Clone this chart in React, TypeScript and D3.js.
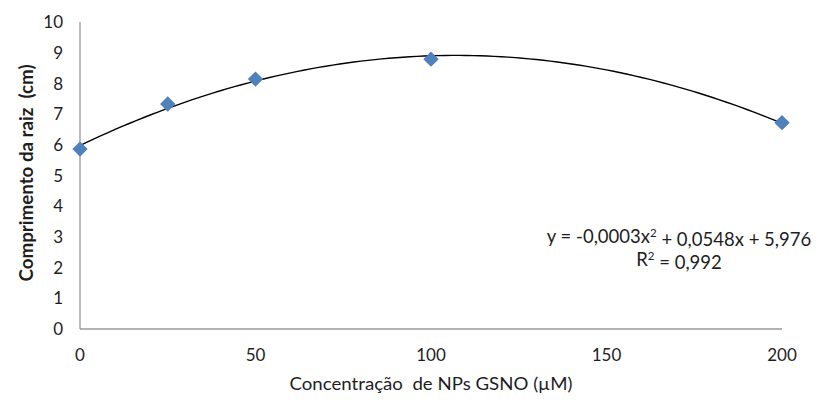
import React from "react";
import * as d3 from "d3";

const concentrations = [0, 25, 50, 100, 200];
const rootLength = [5.86, 7.33, 8.14, 8.79, 6.72];
const xTicks = [0, 50, 100, 150, 200];
const yTicks = [0, 1, 2, 3, 4, 5, 6, 7, 8, 9, 10];
const xTitle = "Concentração  de NPs GSNO (µM)";
const yTitle = "Comprimento da raiz  (cm)";
const eqCoefA = "-0,0003";
const eqCoefB = "0,0548";
const eqCoefC = "5,976";
const r2Text = "0,992";

// least-squares quadratic fit of the data (the trendline)
function quadFit(xs: number[], ys: number[]) {
  const n = xs.length;
  const s = [0, 0, 0, 0, 0];
  const t = [0, 0, 0];
  for (let i = 0; i < n; i++) {
    const x = xs[i], y = ys[i];
    for (let k = 0; k < 5; k++) s[k] += Math.pow(x, k);
    for (let k = 0; k < 3; k++) t[k] += Math.pow(x, k) * y;
  }
  const M = [
    [s[0], s[1], s[2], t[0]],
    [s[1], s[2], s[3], t[1]],
    [s[2], s[3], s[4], t[2]],
  ];
  for (let i = 0; i < 3; i++) {
    for (let j = i + 1; j < 3; j++) {
      const f = M[j][i] / M[i][i];
      for (let k = i; k < 4; k++) M[j][k] -= f * M[i][k];
    }
  }
  const c = [0, 0, 0];
  for (let i = 2; i >= 0; i--) {
    let v = M[i][3];
    for (let k = i + 1; k < 3; k++) v -= M[i][k] * c[k];
    c[i] = v / M[i][i];
  }
  return c; // c0 + c1 x + c2 x^2
}

export default function App() {
  const W = 817, H = 401;
  const x = d3.scaleLinear().domain([0, 200]).range([80, 782]);
  const y = d3.scaleLinear().domain([0, 10]).range([329, 22]);
  const c = quadFit(concentrations, rootLength);
  const curvePts = d3.range(0, 200.01, 2).map((v) => [v, c[0] + c[1] * v + c[2] * v * v] as [number, number]);
  const line = d3.line<[number, number]>().x((d) => x(d[0])).y((d) => y(d[1])).curve(d3.curveLinear);
  const font = "Lato, 'Open Sans', sans-serif";
  const diamond = d3.symbol().type(d3.symbolDiamond2).size(150)();
  const txt = "#1e1e1e";
  return (
    <svg width={W} height={H} style={{ position: "absolute", left: 0, top: 0, background: "#fff" }} fontFamily={font}>
      <line x1={x(0)} x2={x(0)} y1={y(10)} y2={y(0)} stroke="#9a9a9a" strokeWidth={1.3} />
      <line x1={x(0)} x2={x(200)} y1={y(0)} y2={y(0)} stroke="#9a9a9a" strokeWidth={1.3} />
      {yTicks.map((t) => (
        <text key={t} x={63} y={y(t)} dy="0.36em" textAnchor="end" fontSize={17} fill={txt}>{t}</text>
      ))}
      {xTicks.map((t) => (
        <text key={t} x={x(t)} y={355} dy="0.36em" textAnchor="middle" fontSize={17} fill={txt}>{t}</text>
      ))}
      <text x={x(100)} y={384} dy="0.36em" textAnchor="middle" fontSize={18} fill={txt} textLength={283} lengthAdjust="spacingAndGlyphs" style={{ whiteSpace: "pre" }}>{xTitle}</text>
      <text transform={`translate(27,${y(5.05) - 1}) rotate(-90)`} dy="0.36em" textAnchor="middle" fontSize={18} fontWeight="bold" fill={txt} textLength={217} lengthAdjust="spacingAndGlyphs" style={{ whiteSpace: "pre" }}>{yTitle}</text>
      <path d={line(curvePts) || ""} fill="none" stroke="#000" strokeWidth={1.4} />
      {concentrations.map((v, i) => (
        <path key={i} d={diamond || ""} transform={`translate(${x(v)},${y(rootLength[i])})`} fill="#4F81BD" />
      ))}
      <text x={679} y={236} dy="0.36em" textAnchor="middle" fontSize={18.5} fill={txt}>
        {"y = " + eqCoefA + "x"}<tspan dy="-0.45em" fontSize={11.5}>2</tspan><tspan dy="0.45em">{" + " + eqCoefB + "x + " + eqCoefC}</tspan>
      </text>
      <text x={679} y={259} dy="0.36em" textAnchor="middle" fontSize={18.5} fill={txt}>
        R<tspan dy="-0.45em" fontSize={11.5}>2</tspan><tspan dy="0.45em">{" = " + r2Text}</tspan>
      </text>
    </svg>
  );
}
